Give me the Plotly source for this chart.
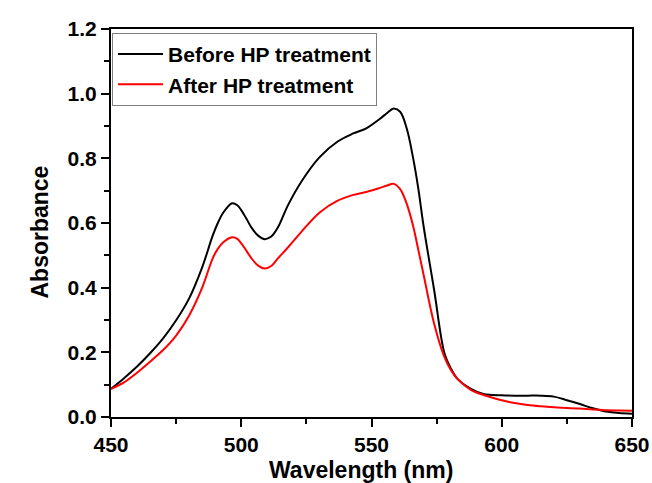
import plotly.graph_objects as go

wavelength = [450, 455, 460, 465, 470, 475, 480, 485, 489, 491, 493, 496.5, 498.5, 500, 502,
              504, 506.5, 509, 511.5, 514, 518, 523, 530, 537, 543, 548, 553, 556, 558.5, 561,
              563.5, 566, 568, 570, 574, 578, 580.5, 583, 588, 593, 600, 605, 610, 615, 620,
              625, 630, 635, 640, 645, 650]

before_hp = [0.087, 0.120, 0.156, 0.197, 0.243, 0.299, 0.367, 0.463, 0.560, 0.600, 0.631, 0.661,
             0.655, 0.640, 0.613, 0.585, 0.561, 0.550, 0.558, 0.585, 0.656, 0.727, 0.803, 0.852,
             0.877, 0.893, 0.921, 0.940, 0.954, 0.944, 0.893, 0.800, 0.705, 0.590, 0.395, 0.197,
             0.150, 0.118, 0.088, 0.071, 0.067, 0.066, 0.066, 0.066, 0.063, 0.052, 0.040, 0.027,
             0.017, 0.012, 0.010]

after_hp = [0.087, 0.107, 0.137, 0.171, 0.207, 0.252, 0.314, 0.400, 0.490, 0.520, 0.540, 0.556,
            0.551, 0.537, 0.514, 0.490, 0.468, 0.459, 0.467, 0.490, 0.525, 0.572, 0.632, 0.669,
            0.687, 0.696, 0.708, 0.716, 0.721, 0.705, 0.660, 0.590, 0.516, 0.440, 0.290, 0.185,
            0.145, 0.118, 0.085, 0.068, 0.052, 0.043, 0.037, 0.033, 0.030, 0.028, 0.026, 0.023,
            0.021, 0.020, 0.019]

series_names = ["Before HP treatment", "After HP treatment"]
x_title = "Wavelength (nm)"
y_title = "Absorbance"

FONT = "Liberation Sans, Arial, sans-serif"

fig = go.Figure()
fig.add_trace(go.Scatter(x=wavelength, y=before_hp, mode="lines", name=series_names[0],
                         line=dict(color="black", width=2, shape="spline", smoothing=1.0)))
fig.add_trace(go.Scatter(x=wavelength, y=after_hp, mode="lines", name=series_names[1],
                         line=dict(color="#ff0000", width=2, shape="spline", smoothing=1.0)))

axis_common = dict(showline=True, linecolor="black", linewidth=2, mirror=True,
                   ticks="outside", ticklen=8, tickwidth=2, tickcolor="black",
                   showgrid=False, zeroline=False, automargin=False,
                   tickfont=dict(family=FONT, size=21, color="black", weight="bold"))

title_font = dict(family=FONT, size=23, color="black", weight="bold")

fig.update_layout(
    width=652, height=483,
    margin=dict(l=111, r=20, t=29, b=66),
    paper_bgcolor="white", plot_bgcolor="white",
    showlegend=True,
    legend=dict(x=0.002, y=0.99, xanchor="left", yanchor="top",
                bordercolor="#808080", borderwidth=1, bgcolor="white",
                font=dict(family=FONT, size=21, color="black", weight="bold"),
                tracegroupgap=0, itemwidth=45),
    xaxis=dict(range=[450, 650], dtick=50, tick0=450,
               minor=dict(dtick=25, ticks="outside", ticklen=5, tickcolor="black", tickwidth=2),
               **axis_common),
    yaxis=dict(range=[0, 1.2], dtick=0.2, tick0=0, tickformat=".1f",
               minor=dict(dtick=0.1, ticks="outside", ticklen=5, tickcolor="black", tickwidth=2),
               **axis_common),
    annotations=[
        dict(text=x_title, xref="paper", yref="paper", x=0.48, y=-0.136,
             xanchor="center", yanchor="middle", showarrow=False, font=title_font),
        dict(text=y_title, xref="paper", yref="paper", x=-0.1363, y=0.478,
             xanchor="center", yanchor="middle", showarrow=False, textangle=-90,
             font=title_font),
    ],
)

fig.write_html("out.html")
